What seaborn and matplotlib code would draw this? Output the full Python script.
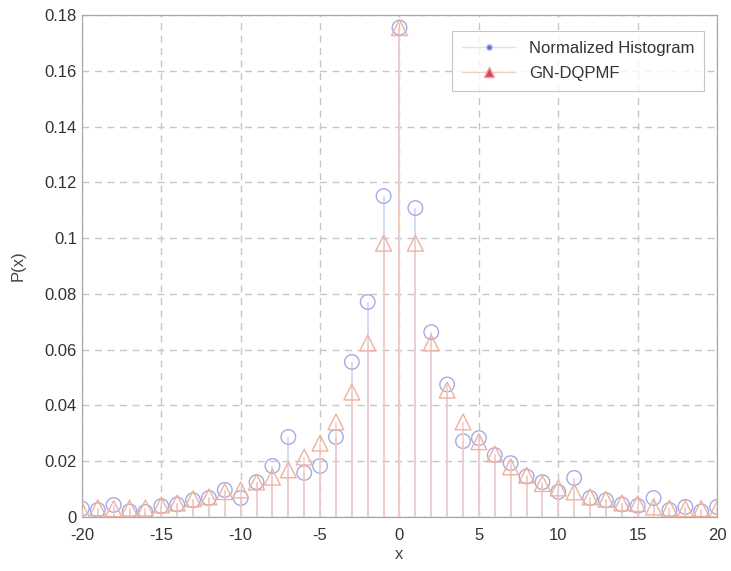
import numpy as np
import pandas as pd
import matplotlib
matplotlib.use("Agg")
import matplotlib.pyplot as plt
from matplotlib.lines import Line2D
import seaborn as sns

x_vals = list(range(-20, 21))
hist_vals = [0.0030, 0.0025, 0.0043, 0.0020, 0.0018, 0.0039, 0.0045, 0.0060, 0.0068, 0.0097,
             0.0068, 0.0125, 0.0183, 0.0287, 0.0158, 0.0183, 0.0287, 0.0556, 0.0771, 0.1151,
             0.1755,
             0.1108, 0.0663, 0.0475, 0.0272, 0.0283, 0.0222, 0.0193, 0.0145, 0.0125, 0.0090,
             0.0140, 0.0068, 0.0060, 0.0045, 0.0040, 0.0068, 0.0025, 0.0036, 0.0020, 0.0036]
pmf_vals = [0.0025, 0.0033, 0.0030, 0.0032, 0.0032, 0.0043, 0.0050, 0.0065, 0.0072, 0.0091,
            0.0097, 0.0125, 0.0143, 0.0169, 0.0215, 0.0265, 0.0341, 0.0448, 0.0624, 0.0982,
            0.1755,
            0.0982, 0.0624, 0.0455, 0.0341, 0.0270, 0.0226, 0.0180, 0.0150, 0.0120, 0.0104,
            0.0090, 0.0072, 0.0063, 0.0050, 0.0048, 0.0036, 0.0032, 0.0030, 0.0030, 0.0028]
series_names = ["Normalized Histogram", "GN-DQPMF"]
x_ticks = [-20, -15, -10, -5, 0, 5, 10, 15, 20]
y_ticks = [0, 0.02, 0.04, 0.06, 0.08, 0.1, 0.12, 0.14, 0.16, 0.18]
y_tick_labels = ["0", "0.02", "0.04", "0.06", "0.08", "0.1", "0.12", "0.14", "0.16", "0.18"]

df = pd.DataFrame({
    "x": x_vals * 2,
    "P": hist_vals + pmf_vals,
    "series": [series_names[0]] * len(x_vals) + [series_names[1]] * len(x_vals),
})

sns.set_style("white")
plt.rcParams['font.family'] = ['Liberation Sans', 'DejaVu Sans']

fig = plt.figure(figsize=(7.31, 5.71), dpi=100)
ax = fig.add_axes([0.112, 0.0946, 0.869, 0.879])

blue_stem = "#cdd1f2"
blue_mark = "#a4abe4"
red_stem = "#f6cbc2"
red_mark = "#f2b09c"

# grid
ax.set_axisbelow(True)
ax.grid(True, linestyle=(0, (5, 4)), color="#c6c6c6", linewidth=1.0)

d1 = df[df.series == series_names[0]]
d2 = df[df.series == series_names[1]]
ax.vlines(d1["x"], 0, d1["P"], color=blue_stem, linewidth=1.1, zorder=2)
sns.scatterplot(data=d1, x="x", y="P", marker="o", s=110, facecolors="none",
                edgecolor=blue_mark, linewidth=1.0, ax=ax, zorder=3, legend=False)
ax.vlines(d2["x"], 0, d2["P"], color=red_stem, linewidth=1.1, zorder=4)
sns.scatterplot(data=d2, x="x", y="P", marker="^", s=130, facecolors="none",
                edgecolor=red_mark, linewidth=1.0, ax=ax, zorder=5, legend=False)
ax.axhline(0, color="#d0d0d0", linewidth=1.0, zorder=1)

ax.set_xlim(-20, 20)
ax.set_ylim(0, 0.18)
ax.set_xticks(x_ticks)
ax.set_xticklabels([str(t) for t in x_ticks])
ax.set_yticks(y_ticks)
ax.set_yticklabels(y_tick_labels)
ax.tick_params(direction="in", length=4, labelsize=12, colors="#777777", labelcolor="#333333")
ax.tick_params(axis="x", pad=8)
ax.set_xlabel("x", fontsize=12, color="#444444", labelpad=3)
ax.set_ylabel("P(x)", fontsize=12, color="#444444", labelpad=14)
for sp in ax.spines.values():
    sp.set_color("#a8a8a8")
    sp.set_linewidth(0.9)

handles = [
    Line2D([0], [0], color="#dde0f6", linewidth=1, marker="o", markersize=4,
           markerfacecolor="#5a6ad0", markeredgecolor="#b8c0ee", markevery=[1]),
    Line2D([0], [0], color="#f6d0c8", linewidth=1, marker="^", markersize=7,
           markerfacecolor="#e04050", markeredgecolor="#f0a0a0", markevery=[1]),
]
for h in handles:
    h.set_data([0, 1], [0, 0])
leg = ax.legend(handles, series_names, loc="upper right", fontsize=12,
                frameon=True, fancybox=False, edgecolor="#b8b8b8",
                handlelength=3.2, borderpad=0.6, labelspacing=0.6,
                bbox_to_anchor=(0.993, 0.985))
leg.get_frame().set_linewidth(0.8)
for t in leg.get_texts():
    t.set_color("#333333")

fig.savefig("out.png", dpi=100, facecolor="white")
